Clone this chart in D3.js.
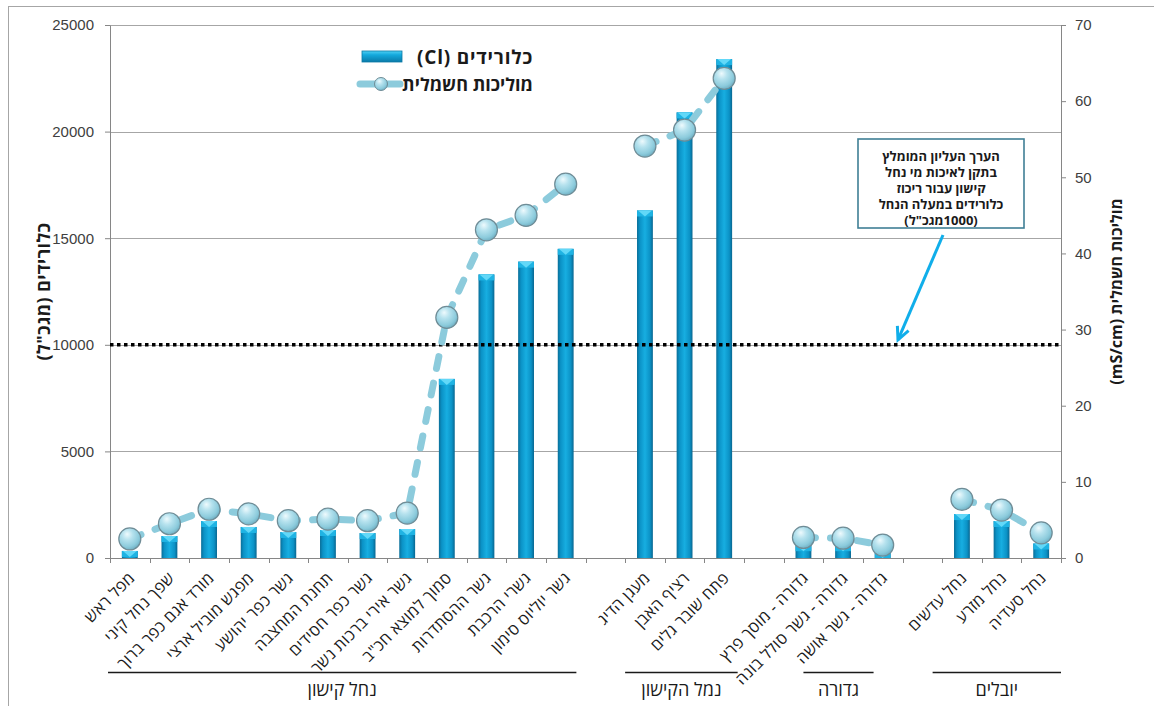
<!DOCTYPE html>
<html lang="he">
<head>
<meta charset="utf-8">
<script src="https://cdn.jsdelivr.net/npm/d3@7/dist/d3.min.js"></script>
<style>
  html, body { margin: 0; padding: 0; background: #fff; }
  svg { display: block; font-family: "Open Sans", "DejaVu Sans", "Liberation Sans", Arial, sans-serif; }
</style>
</head>
<body>
<svg id="chart" width="1154" height="706"></svg>
<script>
// Sampling stations along the Kishon (blank entries separate the groups)
const categories = [
  'מפל ראש', 'שפך נחל קיני', 'מורד אגם כפר ברוך', 'מפגש מוביל ארצי',
  'גשר כפר יהושע', 'תחנת המחצבה', 'גשר כפר חסידים', 'גשר אירי ברכות נשר',
  'סמוך למוצא חכ"ב', 'גשר ההסתדרות', 'גשרי הרכבת', 'גשר יוליוס סימון',
  '',
  'מעגן הדיג', 'רציף האבן', 'פתח שובר גלים',
  '',
  'גדורה - מוסך פרץ', 'גדורה - גשר סולל בונה', 'גדורה - גשר אושה',
  '',
  'נחל עדשים', 'נחל מזרע', 'נחל סעדיה'
];

// Chloride concentration (mg/l)
const chlorides = [
  330, 1030, 1735, 1455, 1220, 1313, 1170, 1360, 8400, 13300, 13900, 14500,
  null,
  16300, 20900, 23400,
  null,
  600, 600, 280,
  null,
  2060, 1735, 680
];

// Electrical conductivity (mS/cm)
const conductivity = [
  2.5, 4.5, 6.4, 5.8, 4.9, 5.1, 4.9, 5.9, 31.6, 43.1, 45.0, 49.1,
  null,
  54.1, 56.2, 63.0,
  null,
  2.7, 2.6, 1.7,
  null,
  7.7, 6.3, 3.3
];

// Station groups: name, first and last station index
const groups = [
  { name: 'נחל קישון', first: 0, last: 11 },
  { name: 'נמל הקישון', first: 13, last: 15 },
  { name: 'גדורה', first: 17, last: 19 },
  { name: 'יובלים', first: 21, last: 23 }
];

const leftTicks = [0, 5000, 10000, 15000, 20000, 25000];
const rightTicks = [0, 10, 20, 30, 40, 50, 60, 70];
const chlorideLimit = 10000;

const legendLabels = ['כלורידים (Cl)', 'מוליכות חשמלית'];
const leftTitle = 'כלורידים (מגכ"ל)';
const rightTitle = 'מוליכות חשמלית (mS/cm)';
const noteLines = ['הערך העליון המומלץ', 'בתקן לאיכות מי נחל', 'קישון עבור ריכוז', 'כלורידים במעלה הנחל'];
// last note line: unit in Hebrew followed by the value, laid out left to right
const noteUnit = 'מגכ"ל', noteValue = '1000';

// ---- layout ----
const plot = { left: 110, right: 1061, top: 25, bottom: 558 };
// bracket spans under the group names, in station units
const bracketSpans = [[-0.05, 11.77], [13.0, 15.84], [17.5, 19.27], [20.76, 24.0]];

const svg = d3.select('#chart');
const defs = svg.append('defs');

const barGrad = defs.append('linearGradient').attr('id', 'barGrad')
  .attr('x1', 0).attr('x2', 1).attr('y1', 0).attr('y2', 0);
[[0, '#0a6e98'], [0.18, '#0b92c6'], [0.5, '#17aee1'], [0.82, '#0b92c6'], [1, '#086690']]
  .forEach(([o, c]) => barGrad.append('stop').attr('offset', o).attr('stop-color', c));

const swatchGrad = defs.append('linearGradient').attr('id', 'swatchGrad')
  .attr('x1', 0).attr('x2', 0).attr('y1', 0).attr('y2', 1);
[[0, '#4fd0f4'], [0.35, '#14a9dd'], [1, '#0a7aa8']]
  .forEach(([o, c]) => swatchGrad.append('stop').attr('offset', o).attr('stop-color', c));

const ballGrad = defs.append('radialGradient').attr('id', 'ballGrad')
  .attr('cx', '0.4').attr('cy', '0.35').attr('r', '0.7').attr('fx', '0.38').attr('fy', '0.28');
[[0, '#eefafd'], [0.35, '#b6e2ee'], [0.75, '#8ccbdc'], [1, '#6aa9bd']]
  .forEach(([o, c]) => ballGrad.append('stop').attr('offset', o).attr('stop-color', c));

// outer chart frame
svg.append('rect').attr('x', 8.5).attr('y', 6.5).attr('width', 1200).attr('height', 800)
  .attr('fill', 'none').attr('stroke', '#a6a6a6');

const x = d3.scaleBand().domain(d3.range(categories.length))
  .range([plot.left, plot.right]).paddingInner(0).paddingOuter(0);
const yL = d3.scaleLinear().domain([0, 25000]).range([plot.bottom, plot.top]);
const yR = d3.scaleLinear().domain([0, 70]).range([plot.bottom, plot.top]);
const bw = x.bandwidth();
const cx = i => x(i) + bw / 2;

// gridlines
svg.append('g').selectAll('line').data(leftTicks.filter(t => t > 0)).join('line')
  .attr('x1', plot.left).attr('x2', plot.right)
  .attr('y1', d => Math.round(yL(d)) + 0.5).attr('y2', d => Math.round(yL(d)) + 0.5)
  .attr('stroke', '#a6a6a6').attr('stroke-width', 1);

// axes
const axisL = svg.append('g').attr('transform', `translate(${plot.left},0)`)
  .call(d3.axisLeft(yL).tickValues(leftTicks).tickSize(5).tickSizeOuter(0).tickPadding(11)
    .tickFormat(d3.format('d')));
const axisR = svg.append('g').attr('transform', `translate(${plot.right},0)`)
  .call(d3.axisRight(yR).tickValues(rightTicks).tickSize(5).tickSizeOuter(0).tickPadding(9));
[axisL, axisR].forEach(a => {
  a.select('.domain').attr('stroke', '#868686');
  a.selectAll('.tick line').attr('stroke', '#868686');
  a.selectAll('.tick text').attr('fill', '#404040').style('font-size', '15px')
    .style('font-family', '"Liberation Sans", Arial, sans-serif');
});

// category axis
const xAxis = svg.append('g');
xAxis.append('line').attr('x1', plot.left).attr('x2', plot.right)
  .attr('y1', plot.bottom + 0.5).attr('y2', plot.bottom + 0.5).attr('stroke', '#868686');
xAxis.selectAll('line.tk').data(d3.range(categories.length + 1)).join('line').attr('class', 'tk')
  .attr('x1', i => Math.round(plot.left + i * x.step()) + 0.5)
  .attr('x2', i => Math.round(plot.left + i * x.step()) + 0.5)
  .attr('y1', plot.bottom).attr('y2', plot.bottom + 5).attr('stroke', '#868686');

xAxis.selectAll('text.cat').data(categories.map((c, i) => ({ c, i })).filter(d => d.c)).join('text')
  .attr('class', 'cat')
  .attr('transform', d => `translate(${cx(d.i) + 6},${plot.bottom + 21}) rotate(-45)`)
  .attr('direction', 'rtl').attr('text-anchor', 'start')
  .attr('fill', '#1a1a1a').style('font-size', '16px').style('letter-spacing', '0.4px')
  .text(d => d.c);

// bars
const barData = chlorides.map((v, i) => ({ v, i })).filter(d => d.v != null);
const barW = bw * 0.4;
const bars = svg.append('g');
bars.selectAll('rect.bar').data(barData).join('rect').attr('class', 'bar')
  .attr('x', d => cx(d.i) - barW / 2).attr('width', barW)
  .attr('y', d => yL(d.v)).attr('height', d => yL(0) - yL(d.v))
  .attr('fill', 'url(#barGrad)');
bars.selectAll('rect.cap').data(barData).join('rect').attr('class', 'cap')
  .attr('x', d => cx(d.i) - barW / 2).attr('width', barW)
  .attr('y', d => yL(d.v)).attr('height', d => Math.min(6, yL(0) - yL(d.v)))
  .attr('fill', '#1fb3e3');
bars.selectAll('path.bevel').data(barData).join('path').attr('class', 'bevel')
  .attr('d', d => {
    const t = yL(d.v), h = Math.min(6, yL(0) - yL(d.v));
    return `M${cx(d.i) - barW / 2 + 1},${t}L${cx(d.i) + barW / 2 - 1},${t}L${cx(d.i)},${t + h}Z`;
  })
  .attr('fill', '#62d8f8');

// chloride limit
svg.append('line').attr('x1', plot.left).attr('x2', plot.right)
  .attr('y1', yL(chlorideLimit)).attr('y2', yL(chlorideLimit))
  .attr('stroke', '#000').attr('stroke-width', 3.5).attr('stroke-dasharray', '3.5,3.5');

// conductivity line and markers
const condData = conductivity.map((v, i) => ({ v, i }));
const line = d3.line().defined(d => d.v != null).x(d => cx(d.i)).y(d => yR(d.v));
svg.append('path').datum(condData).attr('d', line)
  .attr('fill', 'none').attr('stroke', '#8ccbdc').attr('stroke-width', 7)
  .attr('stroke-linecap', 'round').attr('stroke-dasharray', '12,15');
svg.append('g').selectAll('circle').data(condData.filter(d => d.v != null)).join('circle')
  .attr('cx', d => cx(d.i)).attr('cy', d => yR(d.v)).attr('r', 11)
  .attr('fill', 'url(#ballGrad)').attr('stroke', '#6f8c96').attr('stroke-width', 1.2);

// group brackets
const grp = svg.append('g');
groups.forEach((g, k) => {
  const [s, e] = bracketSpans[k];
  const x1 = plot.left + s * x.step(), x2 = plot.left + e * x.step();
  grp.append('line').attr('x1', x1).attr('x2', x2).attr('y1', 672.5).attr('y2', 672.5)
    .attr('stroke', '#1a1a1a').attr('stroke-width', 1.3);
  grp.append('text').attr('x', (x1 + x2) / 2).attr('y', 696)
    .attr('direction', 'rtl').attr('text-anchor', 'middle')
    .attr('fill', '#1a1a1a').style('font-size', '18px').text(g.name);
});

// axis titles
svg.append('text').attr('transform', `translate(43,${(plot.top + plot.bottom) / 2}) rotate(-90)`)
  .attr('direction', 'rtl').attr('text-anchor', 'middle').attr('dominant-baseline', 'central')
  .style('font-size', '18px').style('font-weight', 'bold').style('letter-spacing', '0.4px')
  .attr('fill', '#1a1a1a').text(leftTitle);
svg.append('text').attr('transform', `translate(1116,${(plot.top + plot.bottom) / 2}) rotate(-90)`)
  .attr('direction', 'rtl').attr('text-anchor', 'middle').attr('dominant-baseline', 'central')
  .style('font-size', '16px').style('font-weight', 'bold').attr('fill', '#1a1a1a').text(rightTitle);

// legend
const lg = svg.append('g');
lg.append('rect').attr('x', 362).attr('y', 51).attr('width', 40).attr('height', 11)
  .attr('fill', 'url(#swatchGrad)').attr('stroke', '#0a79a6').attr('stroke-width', 0.8);
lg.append('line').attr('x1', 360).attr('x2', 400).attr('y1', 84).attr('y2', 84)
  .attr('stroke', '#8ccbdc').attr('stroke-width', 7).attr('stroke-linecap', 'round');
lg.append('circle').attr('cx', 381).attr('cy', 84).attr('r', 6.5)
  .attr('fill', 'url(#ballGrad)').attr('stroke', '#6f8c96').attr('stroke-width', 1);
legendLabels.forEach((t, k) => {
  lg.append('text').attr('x', 533).attr('y', 57 + k * 27).attr('dominant-baseline', 'central')
    .attr('direction', 'rtl').attr('text-anchor', 'start')
    .style('font-size', k === 0 ? '19px' : '18px').style('font-weight', 'bold')
    .style('letter-spacing', k === 0 ? '0.8px' : '0px')
    .attr('fill', '#1a1a1a').text(t);
});

// note box with arrow to the limit line
const note = svg.append('g');
note.append('rect').attr('x', 858).attr('y', 139).attr('width', 166).attr('height', 89)
  .attr('fill', '#fff').attr('stroke', '#3f7f95').attr('stroke-width', 1.6);
noteLines.forEach((t, k) => {
  note.append('text').attr('x', 941).attr('y', 156 + k * 16).attr('dominant-baseline', 'central')
    .attr('direction', 'rtl').attr('text-anchor', 'middle')
    .style('font-size', '13px').style('font-weight', 'bold').attr('fill', '#1a1a1a').text(t);
});
// "(unit value)" drawn as three pieces placed left to right
const lastLine = note.append('text').attr('x', 941).attr('y', 156 + noteLines.length * 16)
  .attr('dominant-baseline', 'central').attr('text-anchor', 'middle')
  .style('font-size', '13px').style('font-weight', 'bold').attr('fill', '#1a1a1a');
lastLine.append('tspan').text('(');
lastLine.append('tspan').attr('direction', 'rtl').style('unicode-bidi', 'isolate').text(noteUnit);
lastLine.append('tspan').text(noteValue + ')');

const ax1 = 943, ay1 = 235, ax2 = 898, ay2 = yL(chlorideLimit) - 5;
note.append('line').attr('x1', ax1).attr('y1', ay1).attr('x2', ax2).attr('y2', ay2)
  .attr('stroke', '#10aeea').attr('stroke-width', 3);
const ang = Math.atan2(ay2 - ay1, ax2 - ax1);
const head = 14, spread = 0.45;
note.append('path')
  .attr('d', `M${ax2 - head * Math.cos(ang - spread)},${ay2 - head * Math.sin(ang - spread)}L${ax2},${ay2}L${ax2 - head * Math.cos(ang + spread)},${ay2 - head * Math.sin(ang + spread)}`)
  .attr('fill', 'none').attr('stroke', '#10aeea').attr('stroke-width', 3)
  .attr('stroke-linejoin', 'miter');
</script>
</body>
</html>
